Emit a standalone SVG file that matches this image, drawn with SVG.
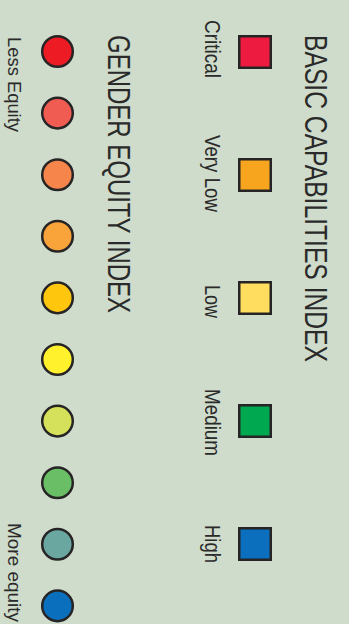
<svg xmlns="http://www.w3.org/2000/svg" width="349" height="624" viewBox="0 0 349 624">
<style>
.bg{fill:#cfdccb}
.sq{stroke:#262425;stroke-width:2.5}
.ci{stroke:#262425;stroke-width:2.5}
text{font-family:"Liberation Sans",Arial,sans-serif;fill:#2a2a2a}
.title{font-size:32px}
.lab{font-size:22px}
.end{font-size:19px}
</style>
<rect class="bg" x="0" y="0" width="349" height="624"/>
<g id="bci-legend">
  <text class="title" transform="translate(305,35) rotate(90)" textLength="327" lengthAdjust="spacingAndGlyphs">BASIC CAPABILITIES INDEX</text>
  <g id="bci-critical">
    <rect class="sq" x="239.25" y="36.25" width="31.5" height="31.5" fill="#ee1b41"/>
    <text class="lab" transform="translate(205,20) rotate(90)" textLength="58" lengthAdjust="spacingAndGlyphs">Critical</text>
  </g>
  <g id="bci-verylow">
    <rect class="sq" x="239.25" y="159.25" width="31.5" height="31.5" fill="#f7a51e"/>
    <text class="lab" transform="translate(205,135) rotate(90)" textLength="77" lengthAdjust="spacingAndGlyphs">Very Low</text>
  </g>
  <g id="bci-low">
    <rect class="sq" x="239.25" y="282.25" width="31.5" height="31.5" fill="#ffdd5e"/>
    <text class="lab" transform="translate(205,285) rotate(90)" textLength="33" lengthAdjust="spacingAndGlyphs">Low</text>
  </g>
  <g id="bci-medium">
    <rect class="sq" x="239.25" y="405.25" width="31.5" height="31.5" fill="#00a94f"/>
    <text class="lab" transform="translate(205,389) rotate(90)" textLength="67" lengthAdjust="spacingAndGlyphs">Medium</text>
  </g>
  <g id="bci-high">
    <rect class="sq" x="239.25" y="528.25" width="31.5" height="31.5" fill="#0b6fbd"/>
    <text class="lab" transform="translate(205,525) rotate(90)" textLength="38" lengthAdjust="spacingAndGlyphs">High</text>
  </g>
</g>
<g id="gei-legend">
  <text class="title" transform="translate(108,35) rotate(90)" textLength="278" lengthAdjust="spacingAndGlyphs">GENDER EQUITY INDEX</text>
  <g id="gei-1"><circle class="ci" cx="57.5" cy="51.5" r="15.3" fill="#ed1c24"/></g>
  <g id="gei-2"><circle class="ci" cx="57.5" cy="113.1" r="15.3" fill="#f15c52"/></g>
  <g id="gei-3"><circle class="ci" cx="57.5" cy="174.7" r="15.3" fill="#f5854a"/></g>
  <g id="gei-4"><circle class="ci" cx="57.5" cy="236.3" r="15.3" fill="#f9a33b"/></g>
  <g id="gei-5"><circle class="ci" cx="57.5" cy="297.9" r="15.3" fill="#ffc60e"/></g>
  <g id="gei-6"><circle class="ci" cx="57.5" cy="359.5" r="15.3" fill="#fff22d"/></g>
  <g id="gei-7"><circle class="ci" cx="57.5" cy="421.1" r="15.3" fill="#d5e05b"/></g>
  <g id="gei-8"><circle class="ci" cx="57.5" cy="482.7" r="15.3" fill="#6abf66"/></g>
  <g id="gei-9"><circle class="ci" cx="57.5" cy="544.3" r="15.3" fill="#6ba7a1"/></g>
  <g id="gei-10"><circle class="ci" cx="57.5" cy="605.9" r="15.3" fill="#0a6fbd"/></g>
  <text class="end" transform="translate(8,37) rotate(90)" textLength="95" lengthAdjust="spacingAndGlyphs">Less Equity</text>
  <text class="end" transform="translate(8,523) rotate(90)" textLength="99" lengthAdjust="spacingAndGlyphs">More equity</text>
</g>
</svg>
